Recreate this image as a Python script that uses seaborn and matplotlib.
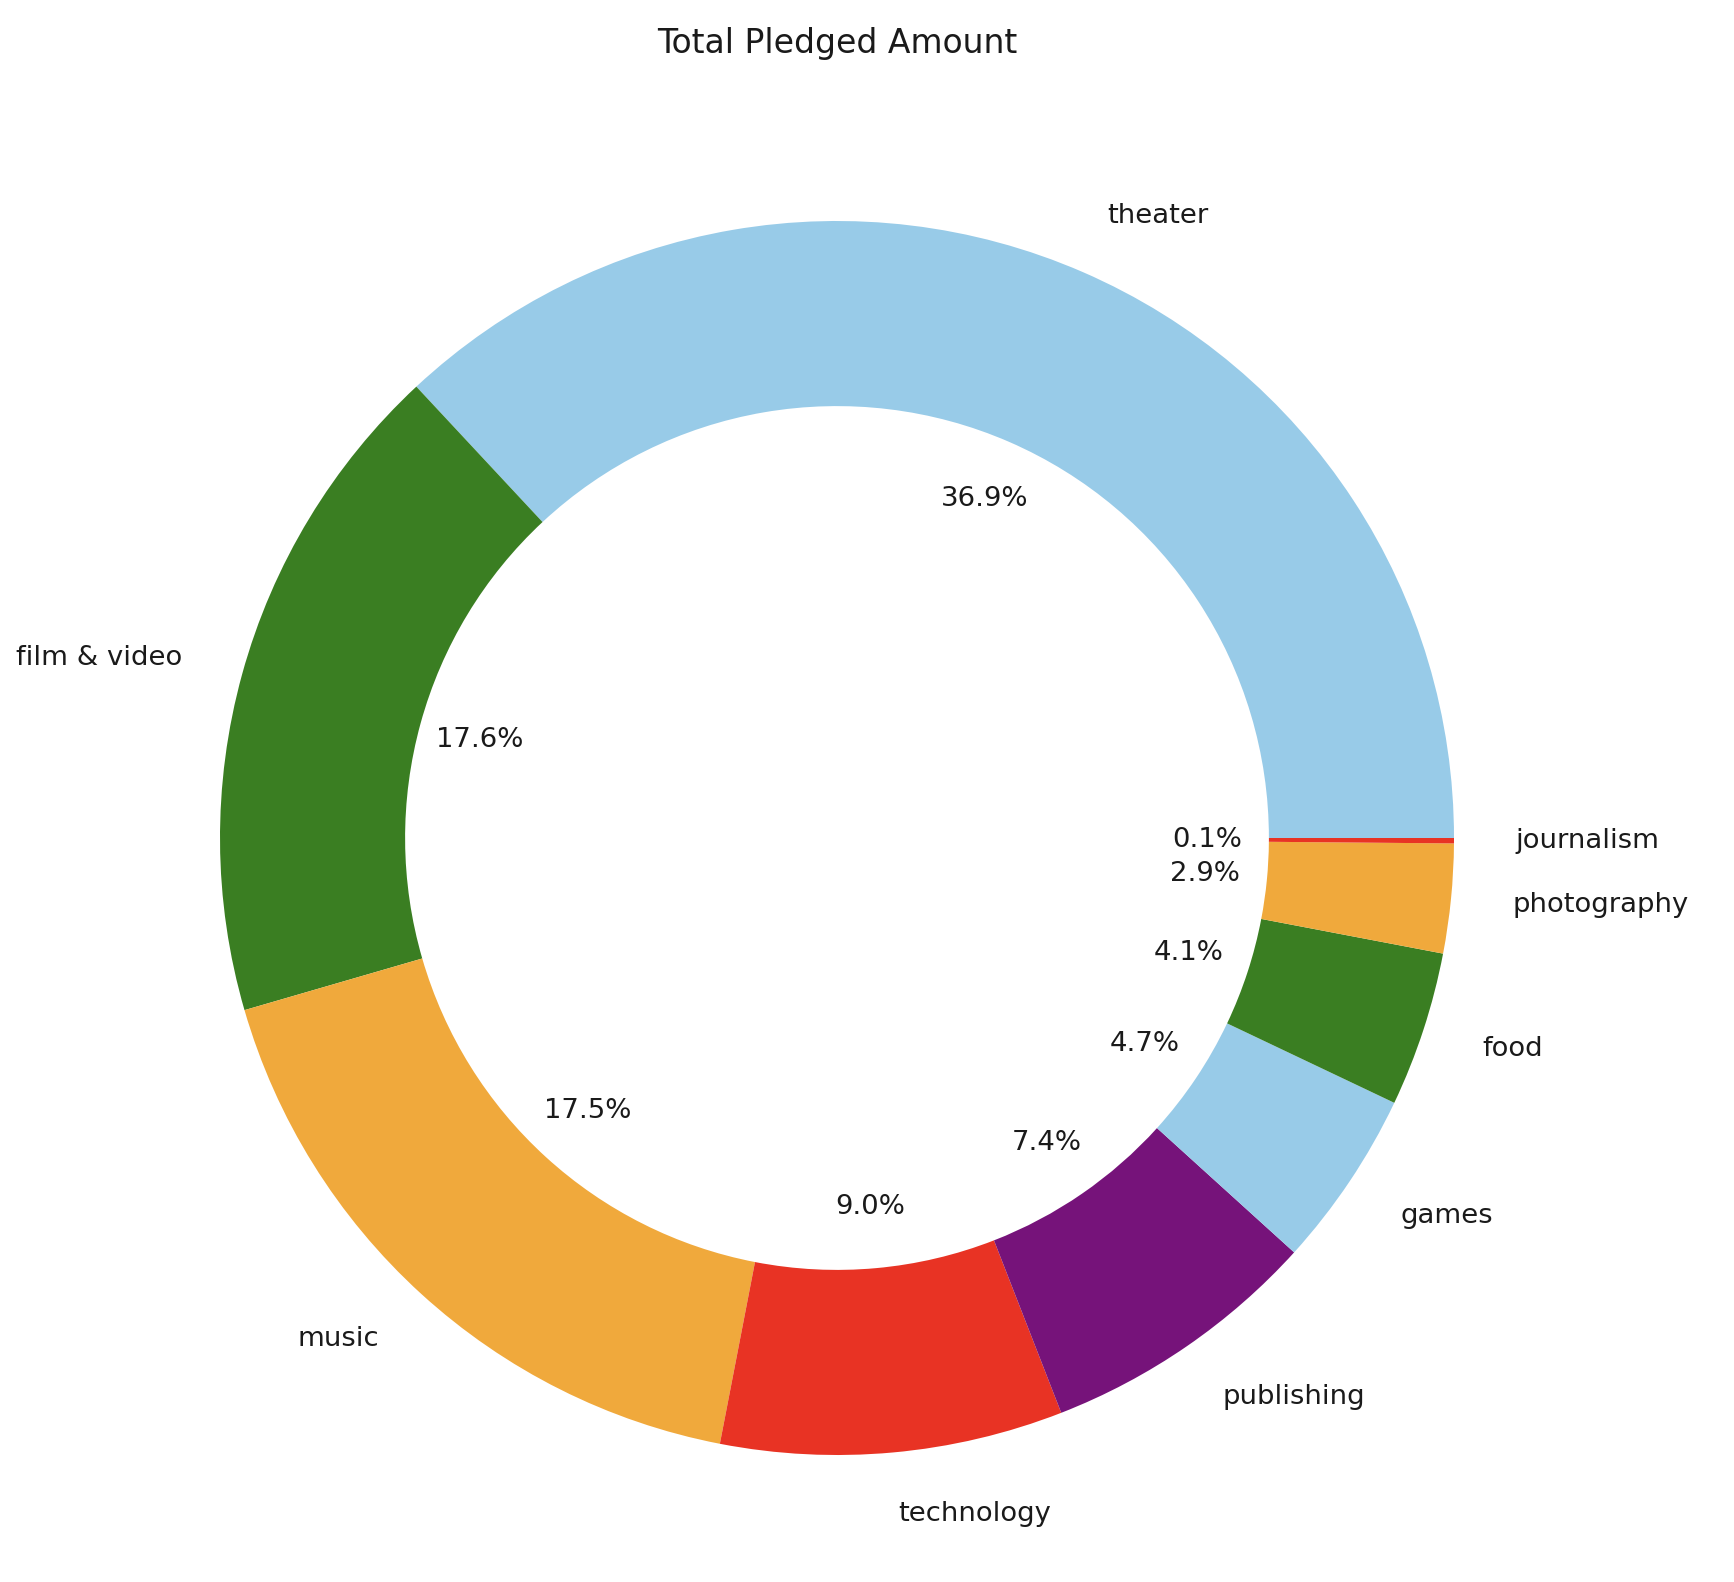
import matplotlib
matplotlib.use("Agg")
import matplotlib.pyplot as plt
import seaborn as sns

categories = ["theater", "film & video", "music", "technology", "publishing",
              "games", "food", "photography", "journalism"]
pledged_share = [36.94, 17.56, 17.46, 8.96, 7.36, 4.66, 4.06, 2.86, 0.14]
base_colors = ["#98CBE8", "#3A7E22", "#F0A93C", "#E83324", "#76137A"]

sns.set_style("white")
plt.rcParams['font.family'] = ['DejaVu Sans']

palette = sns.color_palette(base_colors)
colors = [palette[i % len(palette)] for i in range(len(categories))]

DPI = 192
fig = plt.figure(figsize=(1734 / DPI, 1582 / DPI), dpi=DPI)
ax = fig.add_axes([0, 0, 1, 1])

ax.pie(pledged_share, labels=categories, colors=colors, autopct="%1.1f%%",
       startangle=0, pctdistance=0.6, labeldistance=1.1,
       wedgeprops=dict(width=0.3, edgecolor="none"),
       textprops=dict(fontsize=10.3, color="#1a1a1a"))

cx, cy, r = 837.0, 838.0, 617.0
ax.set_xlim(-cx / r, (1734 - cx) / r)
ax.set_ylim(-(1582 - cy) / r, cy / r)
ax.set_aspect("auto")
ax.axis("off")

fig.text(cx / 1734, 1 - 44 / 1582, "Total Pledged Amount", ha="center",
         va="center", fontsize=12.4, color="#1a1a1a")

fig.savefig("out.png", dpi=DPI)
